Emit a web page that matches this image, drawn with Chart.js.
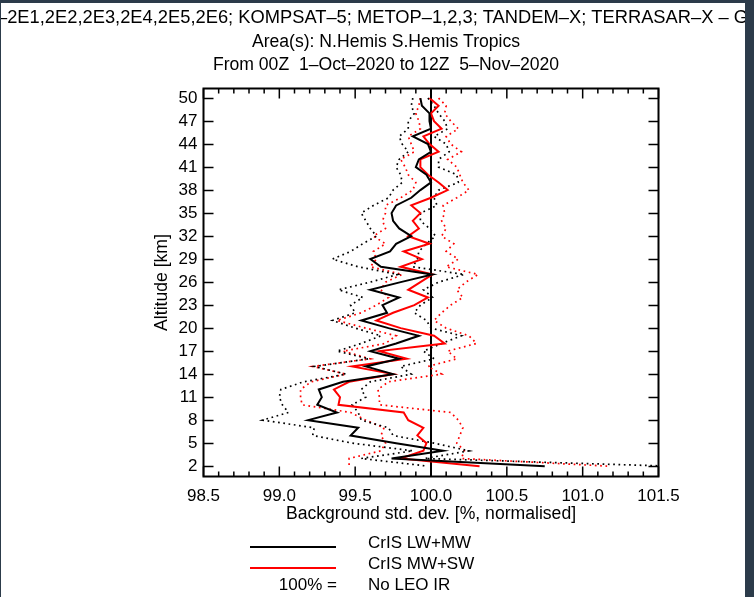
<!DOCTYPE html>
<html>
<head>
<meta charset="utf-8">
<script src="https://cdn.jsdelivr.net/npm/chart.js@4.4.0/dist/chart.umd.min.js"></script>
<style>
  html, body { margin: 0; padding: 0; background: #2c3b4a; }
  canvas { display: block; }
</style>
</head>
<body>
<canvas id="profileChart" width="754" height="597"></canvas>
<script>
/* ===== DATA ===== */

// Altitude levels [km], top to bottom
const altitudes = [50, 49, 48, 47, 46, 45, 44, 43, 42, 41, 40, 39, 38, 37, 36, 35, 34, 33, 32, 31,
  30, 29, 28, 27, 26, 25, 24, 23, 22, 21, 20, 19, 18, 17, 16, 15, 14, 13, 12, 11,
  10, 9, 8, 7, 6, 5, 4, 3, 2];

// CrIS LW+MW, background std. dev. [% of No LEO IR]
const lwmw = [99.93, 99.94, 99.99, 99.99, 100.0, 99.88, 99.98, 100.0, 99.92, 99.90,
  99.97, 100.0, 99.93, 99.87, 99.77, 99.74, 99.75, 99.79, 99.87, 99.77,
  99.73, 99.60, 99.67, 100.01, 99.80, 99.60, 99.79, 99.68, 99.71, 99.54,
  99.72, 99.92, 99.77, 99.60, 99.79, 99.57, 99.75, 99.42, 99.26, 99.28,
  99.25, 99.38, 99.19, 99.52, 99.47, 99.77, 100.08, 99.74, 100.75];
const lwmwLo = [99.88, 99.87, 99.89, 99.85, 99.85, 99.79, 99.81, 99.85, 99.79, 99.77,
  99.80, 99.81, 99.75, 99.72, 99.62, 99.54, 99.57, 99.60, 99.64, 99.55,
  99.47, 99.35, 99.52, 99.78, 99.60, 99.39, 99.55, 99.47, 99.50, 99.35,
  99.50, 99.67, 99.54, 99.38, 99.59, 99.23, 99.44, 99.16, 99.01, 99.00,
  99.02, 99.06, 98.89, 99.23, 99.22, 99.48, 99.88, 99.54, 99.98];
const lwmwHi = [99.98, 100.02, 100.05, 100.09, 100.11, 100.02, 100.10, 100.12, 100.05, 100.05,
  100.17, 100.18, 100.05, 100.02, 100.04, 99.93, 99.93, 99.99, 100.03, 99.97,
  99.92, 99.91, 99.88, 100.22, 100.05, 99.95, 100.01, 99.93, 99.89, 99.97,
  100.0, 100.20, 100.07, 99.95, 100.02, 99.80, 99.87, 99.60, 99.54, 99.57,
  99.48, 99.52, 99.54, 99.72, 99.75, 100.02, 100.25, 99.96, 101.57];

// CrIS MW+SW
const mwsw = [99.99, 100.05, 100.0, 100.02, 100.07, 99.95, 99.99, 100.05, 99.93, 99.93,
  99.98, 100.05, 100.11, 100.0, 99.87, 99.93, 99.88, 99.92, 99.85, 99.99,
  99.82, 99.94, 99.80, 100.01, 99.93, 99.85, 99.98, 99.89, 99.75, 99.64,
  99.80, 100.02, 100.09, 99.66, 99.84, 99.48, 99.75, 99.46, 99.36, 99.40,
  99.39, 99.82, 99.85, 99.95, 99.91, 99.97, 99.95, 99.80, 100.32];
const mwswLo = [99.93, 99.92, 99.90, 99.92, 99.93, 99.85, 99.87, 99.89, 99.80, 99.83,
  99.85, 99.90, 99.88, 99.80, 99.70, 99.70, 99.68, 99.70, 99.62, 99.70,
  99.62, 99.64, 99.60, 99.81, 99.70, 99.67, 99.72, 99.64, 99.54, 99.38,
  99.57, 99.77, 99.70, 99.42, 99.60, 99.22, 99.44, 99.21, 99.14, 99.14,
  99.15, 99.47, 99.57, 99.69, 99.67, 99.70, 99.67, 99.46, 99.46];
const mwswHi = [100.05, 100.10, 100.09, 100.13, 100.18, 100.10, 100.13, 100.20, 100.11, 100.17,
  100.19, 100.21, 100.25, 100.17, 100.08, 100.09, 100.07, 100.10, 100.07, 100.15,
  100.10, 100.18, 100.10, 100.31, 100.23, 100.17, 100.21, 100.13, 100.07, 100.02,
  100.10, 100.25, 100.30, 100.11, 100.17, 99.98, 100.07, 99.72, 99.65, 99.66,
  99.66, 100.13, 100.18, 100.21, 100.19, 100.17, 100.22, 100.20, 101.17];

// Reference experiment (= 100%)
const refValue = 100.0;

// Axis ticks
const xTicks = [98.5, 99.0, 99.5, 100.0, 100.5, 101.0, 101.5];
const yTicks = [2, 5, 8, 11, 14, 17, 20, 23, 26, 29, 32, 35, 38, 41, 44, 47, 50];

// Texts
const titleLines = [
  '\u20132E1,2E2,2E3,2E4,2E5,2E6; KOMPSAT\u20135; METOP\u20131,2,3; TANDEM\u2013X; TERRASAR\u2013X \u2013 G',
  'Area(s): N.Hemis S.Hemis Tropics',
  'From 00Z  1\u2013Oct\u20132020 to 12Z  5\u2013Nov\u20132020',
];
const xTitle = 'Background std. dev. [%, normalised]';
const yTitle = 'Altitude [km]';
const refLabel = ['100% =', 'No LEO IR'];

/* ===== HELPERS ===== */

const FONT_FAMILY = '"Liberation Sans", Arial, Helvetica, sans-serif';
const FONT = { family: FONT_FAMILY, size: 17 };

function toPoints(vals) {
  return vals.map((v, i) => ({ x: v, y: altitudes[i] }));
}

function lineSet(label, vals, color, dotted) {
  return {
    label,
    data: toPoints(vals),
    showLine: true,
    borderColor: color,
    backgroundColor: color,
    borderWidth: dotted ? 1.7 : 2,
    borderDash: dotted ? [1.7, 3.6] : [],
    pointRadius: 0,
    tension: 0,
    inLegend: !dotted,
  };
}

// frame, titles, inward tick marks, reference line and legend
const decorPlugin = {
  id: 'decor',
  beforeDraw(chart) {
    const ctx = chart.ctx;
    ctx.save();
    ctx.fillStyle = '#2c3b4a';
    ctx.fillRect(0, 0, chart.width, chart.height);
    ctx.fillStyle = '#ffffff';
    ctx.fillRect(1, 3, 744, 594);
    ctx.restore();
  },
  beforeDatasetsDraw(chart) {
    const { ctx, chartArea: a, scales: { x } } = chart;
    const px = x.getPixelForValue(refValue);
    ctx.save();
    ctx.strokeStyle = '#000';
    ctx.lineWidth = 2;
    ctx.beginPath();
    ctx.moveTo(px, a.top);
    ctx.lineTo(px, a.bottom);
    ctx.stroke();
    ctx.restore();
  },
  afterDraw(chart) {
    const { ctx, chartArea: a, scales: { x, y } } = chart;
    ctx.save();

    // plot box
    ctx.strokeStyle = '#000';
    ctx.lineWidth = 2;
    ctx.strokeRect(a.left, a.top, a.right - a.left, a.bottom - a.top);

    // ticks pointing inward
    ctx.lineWidth = 1.5;
    ctx.beginPath();
    yTicks.forEach(t => {
      const py = Math.round(y.getPixelForValue(t)) + 0.5;
      ctx.moveTo(a.left, py); ctx.lineTo(a.left + 10, py);
      ctx.moveTo(a.right, py); ctx.lineTo(a.right - 10, py);
    });
    for (let i = 0; i <= 30; i++) {
      const v = xTicks[0] + i * 0.1;
      const len = i % 5 === 0 ? 10 : 5;
      const px = x.getPixelForValue(v);
      ctx.moveTo(px, a.bottom); ctx.lineTo(px, a.bottom - len);
      ctx.moveTo(px, a.top); ctx.lineTo(px, a.top + len);
    }
    ctx.stroke();

    // titles
    ctx.fillStyle = '#000';
    ctx.font = '17.6px ' + FONT_FAMILY;
    ctx.textBaseline = 'middle';
    ctx.save();
    ctx.beginPath();
    ctx.rect(1, 3, 744, 594);
    ctx.clip();
    ctx.textAlign = 'left';
    // first line is wider than the page and cut at both sides
    const w = ctx.measureText(titleLines[0]).width;
    ctx.translate(-3, 18);
    ctx.scale(751 / w, 1);
    ctx.fillText(titleLines[0], 0, 0);
    ctx.restore();
    ctx.textAlign = 'center';
    ctx.fillText(titleLines[1], 386, 42);
    ctx.fillText(titleLines[2], 386, 65);

    // legend
    ctx.font = '17px ' + FONT_FAMILY;
    const sets = chart.data.datasets.filter(d => d.inLegend);
    const lineY = [547, 568];
    const textY = [543, 564];
    sets.forEach((d, i) => {
      ctx.strokeStyle = d.borderColor;
      ctx.lineWidth = 2;
      ctx.beginPath();
      ctx.moveTo(250, lineY[i]);
      ctx.lineTo(336, lineY[i]);
      ctx.stroke();
      ctx.textAlign = 'left';
      ctx.fillText(d.label, 368, textY[i]);
    });
    ctx.textAlign = 'right';
    ctx.fillText(refLabel[0], 337, 585);
    ctx.textAlign = 'left';
    ctx.fillText(refLabel[1], 368, 585);

    ctx.restore();
  }
};

/* ===== CHART ===== */

new Chart(document.getElementById('profileChart'), {
  type: 'scatter',
  data: {
    datasets: [
      lineSet('CrIS LW+MW', lwmw, '#000000', false),
      lineSet('CrIS MW+SW', mwsw, '#ff0000', false),
      lineSet('CrIS LW+MW lower', lwmwLo, '#000000', true),
      lineSet('CrIS LW+MW upper', lwmwHi, '#000000', true),
      lineSet('CrIS MW+SW lower', mwswLo, '#ff0000', true),
      lineSet('CrIS MW+SW upper', mwswHi, '#ff0000', true),
    ]
  },
  options: {
    responsive: false,
    animation: false,
    devicePixelRatio: 1,
    layout: { padding: { left: 151.5, right: 95.5, top: 88.5, bottom: 72.5 } },
    plugins: {
      legend: { display: false },
      tooltip: { enabled: false },
    },
    scales: {
      x: {
        type: 'linear',
        position: 'bottom',
        min: 98.5,
        max: 101.5,
        grid: { display: false, drawTicks: false },
        border: { display: false },
        afterBuildTicks(s) { s.ticks = xTicks.map(v => ({ value: v })); },
        afterFit(s) { s.height = 48; },
        ticks: {
          font: FONT,
          color: '#000',
          padding: 10,
          maxRotation: 0,
          autoSkip: false,
          callback(v) { return Number(v).toFixed(1); }
        },
        title: { display: true, text: xTitle, font: { family: FONT_FAMILY, size: 17.6 }, color: '#000', padding: 0 }
      },
      y: {
        type: 'linear',
        position: 'left',
        min: 0.65,
        max: 51.25,
        grid: { display: false, drawTicks: false },
        border: { display: false },
        afterBuildTicks(s) { s.ticks = yTicks.map(v => ({ value: v })); },
        afterFit(s) { s.width = 52; },
        ticks: {
          font: FONT,
          color: '#000',
          padding: 6,
          autoSkip: false,
          callback(v) { return String(v); }
        },
        title: { display: true, text: yTitle, font: { family: FONT_FAMILY, size: 17.6 }, color: '#000', padding: 0 }
      }
    }
  },
  plugins: [decorPlugin]
});
</script>
</body>
</html>
